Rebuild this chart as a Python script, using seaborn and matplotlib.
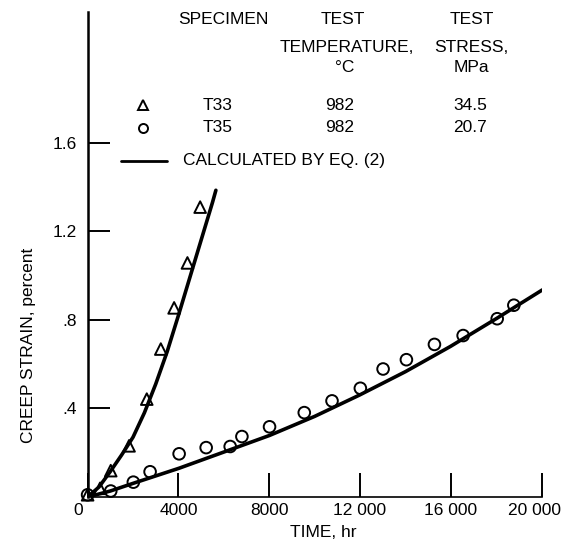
import matplotlib
matplotlib.use("Agg")
import matplotlib.pyplot as plt
import seaborn as sns
from matplotlib.lines import Line2D
from matplotlib.transforms import ScaledTranslation

# measured points, specimen T33 (34.5 MPa)
t33_time = [0, 547, 1019, 1826, 2606, 3224, 3810, 4397, 4957]
t33_strain = [0.01, 0.039, 0.119, 0.231, 0.442, 0.668, 0.854, 1.057, 1.309]

# measured points, specimen T35 (20.7 MPa)
t35_time = [0, 1019, 2015, 2752, 4031, 5222, 6280, 6796, 8013, 9543,
            10765, 12013, 13014, 14041, 15276, 16540, 18040, 18773]
t35_strain = [0.01, 0.027, 0.067, 0.114, 0.195, 0.223, 0.228, 0.273, 0.317, 0.381,
              0.434, 0.491, 0.578, 0.620, 0.689, 0.729, 0.805, 0.866]

# curves calculated by eq. (2)
calc33_time = [0, 500, 1000, 1500, 2000, 2500, 3000, 3500, 4000, 4500, 5000, 5500, 5650]
calc33_strain = [0, 0.045, 0.115, 0.19, 0.27, 0.38, 0.51, 0.655, 0.82, 0.99, 1.16, 1.33, 1.385]
calc35_time = [0, 1000, 2015, 4031, 6000, 8013, 10000, 11969, 14000, 15982, 18042, 20026]
calc35_strain = [0, 0.027, 0.062, 0.13, 0.203, 0.278, 0.364, 0.46, 0.566, 0.68, 0.808, 0.935]

x_ticks = [0, 4000, 8000, 12000, 16000, 20000]
x_labels = ["0", "4000", "8000", "12 000", "16 000", "20 000"]
y_ticks = [0.4, 0.8, 1.2, 1.6]
y_labels = [".4", ".8", "1.2", "1.6"]

sns.set_style("ticks", {"axes.edgecolor": "black", "text.color": "black",
                        "xtick.color": "black", "ytick.color": "black",
                        "axes.labelcolor": "black"})
plt.rcParams["font.family"] = ["Liberation Sans", "DejaVu Sans"]
FS = 12.5

W, H = 565, 542
fig = plt.figure(figsize=(W / 100, H / 100), dpi=100)
ax = fig.add_axes([87.6 / W, 1 - 497 / H, (541.7 - 87.6) / W, (497 - 12) / H])

sns.lineplot(x=calc33_time, y=calc33_strain, color="black", lw=2.6,
             sort=False, estimator=None, ax=ax)
sns.lineplot(x=calc35_time, y=calc35_strain, color="black", lw=2.6,
             sort=False, estimator=None, ax=ax)
sns.scatterplot(x=t33_time, y=t33_strain, marker="^", s=70, facecolor="none",
                edgecolor="black", linewidth=1.4, clip_on=False, zorder=3, ax=ax)
sns.scatterplot(x=t35_time, y=t35_strain, marker="o", s=70, facecolor="none",
                edgecolor="black", linewidth=1.4, clip_on=False, zorder=3, ax=ax)

ax.set_xlim(0, 20000)
ax.set_ylim(0, 2.19)
ax.set_xticks(x_ticks)
ax.set_xticklabels(x_labels, fontsize=FS)
ax.set_yticks(y_ticks)
ax.set_yticklabels(y_labels, fontsize=FS)
ax.tick_params(axis="x", direction="in", length=17, width=1.4, pad=4)
ax.tick_params(axis="y", direction="in", length=16, width=1.4, pad=8)
# the "0" sits left of the corner, the last label is pulled in from the edge
xlbls = ax.get_xticklabels()
xlbls[0].set_transform(xlbls[0].get_transform() + ScaledTranslation(-7 / 72, 0, fig.dpi_scale_trans))
xlbls[-1].set_transform(xlbls[-1].get_transform() + ScaledTranslation(-5 / 72, 0, fig.dpi_scale_trans))

sns.despine(ax=ax)
ax.spines["left"].set_linewidth(1.8)
ax.spines["bottom"].set_linewidth(1.2)

ax.set_xlabel("TIME, hr", fontsize=FS, va="center")
ax.xaxis.set_label_coords(0.518, -0.074)
ax.set_ylabel("CREEP STRAIN, percent", fontsize=FS, va="center")
ax.yaxis.set_label_coords(-0.13, 0.313)


def ftext(px, py, s, ha="center"):
    fig.text(px / W, 1 - py / H, s, ha=ha, va="center", fontsize=FS)


# legend laid out as a table
ftext(223, 20, "SPECIMEN")
ftext(343, 20, "TEST")
ftext(347, 47, "TEMPERATURE,")
ftext(345, 68, "°C")
ftext(472, 20, "TEST")
ftext(471, 47, "STRESS,")
ftext(471, 68, "MPa")
for py, spec, temp, stress in [(105, "T33", "982", "34.5"), (128, "T35", "982", "20.7")]:
    ftext(218, py, spec)
    ftext(340, py, temp)
    ftext(470, py, stress)
fig.add_artist(Line2D([143 / W], [1 - 105 / H], marker="^", ms=7, mfc="none",
                      mec="black", mew=1.4, transform=fig.transFigure))
fig.add_artist(Line2D([143 / W], [1 - 128 / H], marker="o", ms=6.5, mfc="none",
                      mec="black", mew=1.4, transform=fig.transFigure))
fig.add_artist(Line2D([121 / W, 167 / W], [1 - 161 / H, 1 - 161 / H], color="black",
                      lw=2, transform=fig.transFigure))
ftext(183, 161, "CALCULATED BY EQ. (2)", ha="left")

fig.savefig("out.png", dpi=100)
